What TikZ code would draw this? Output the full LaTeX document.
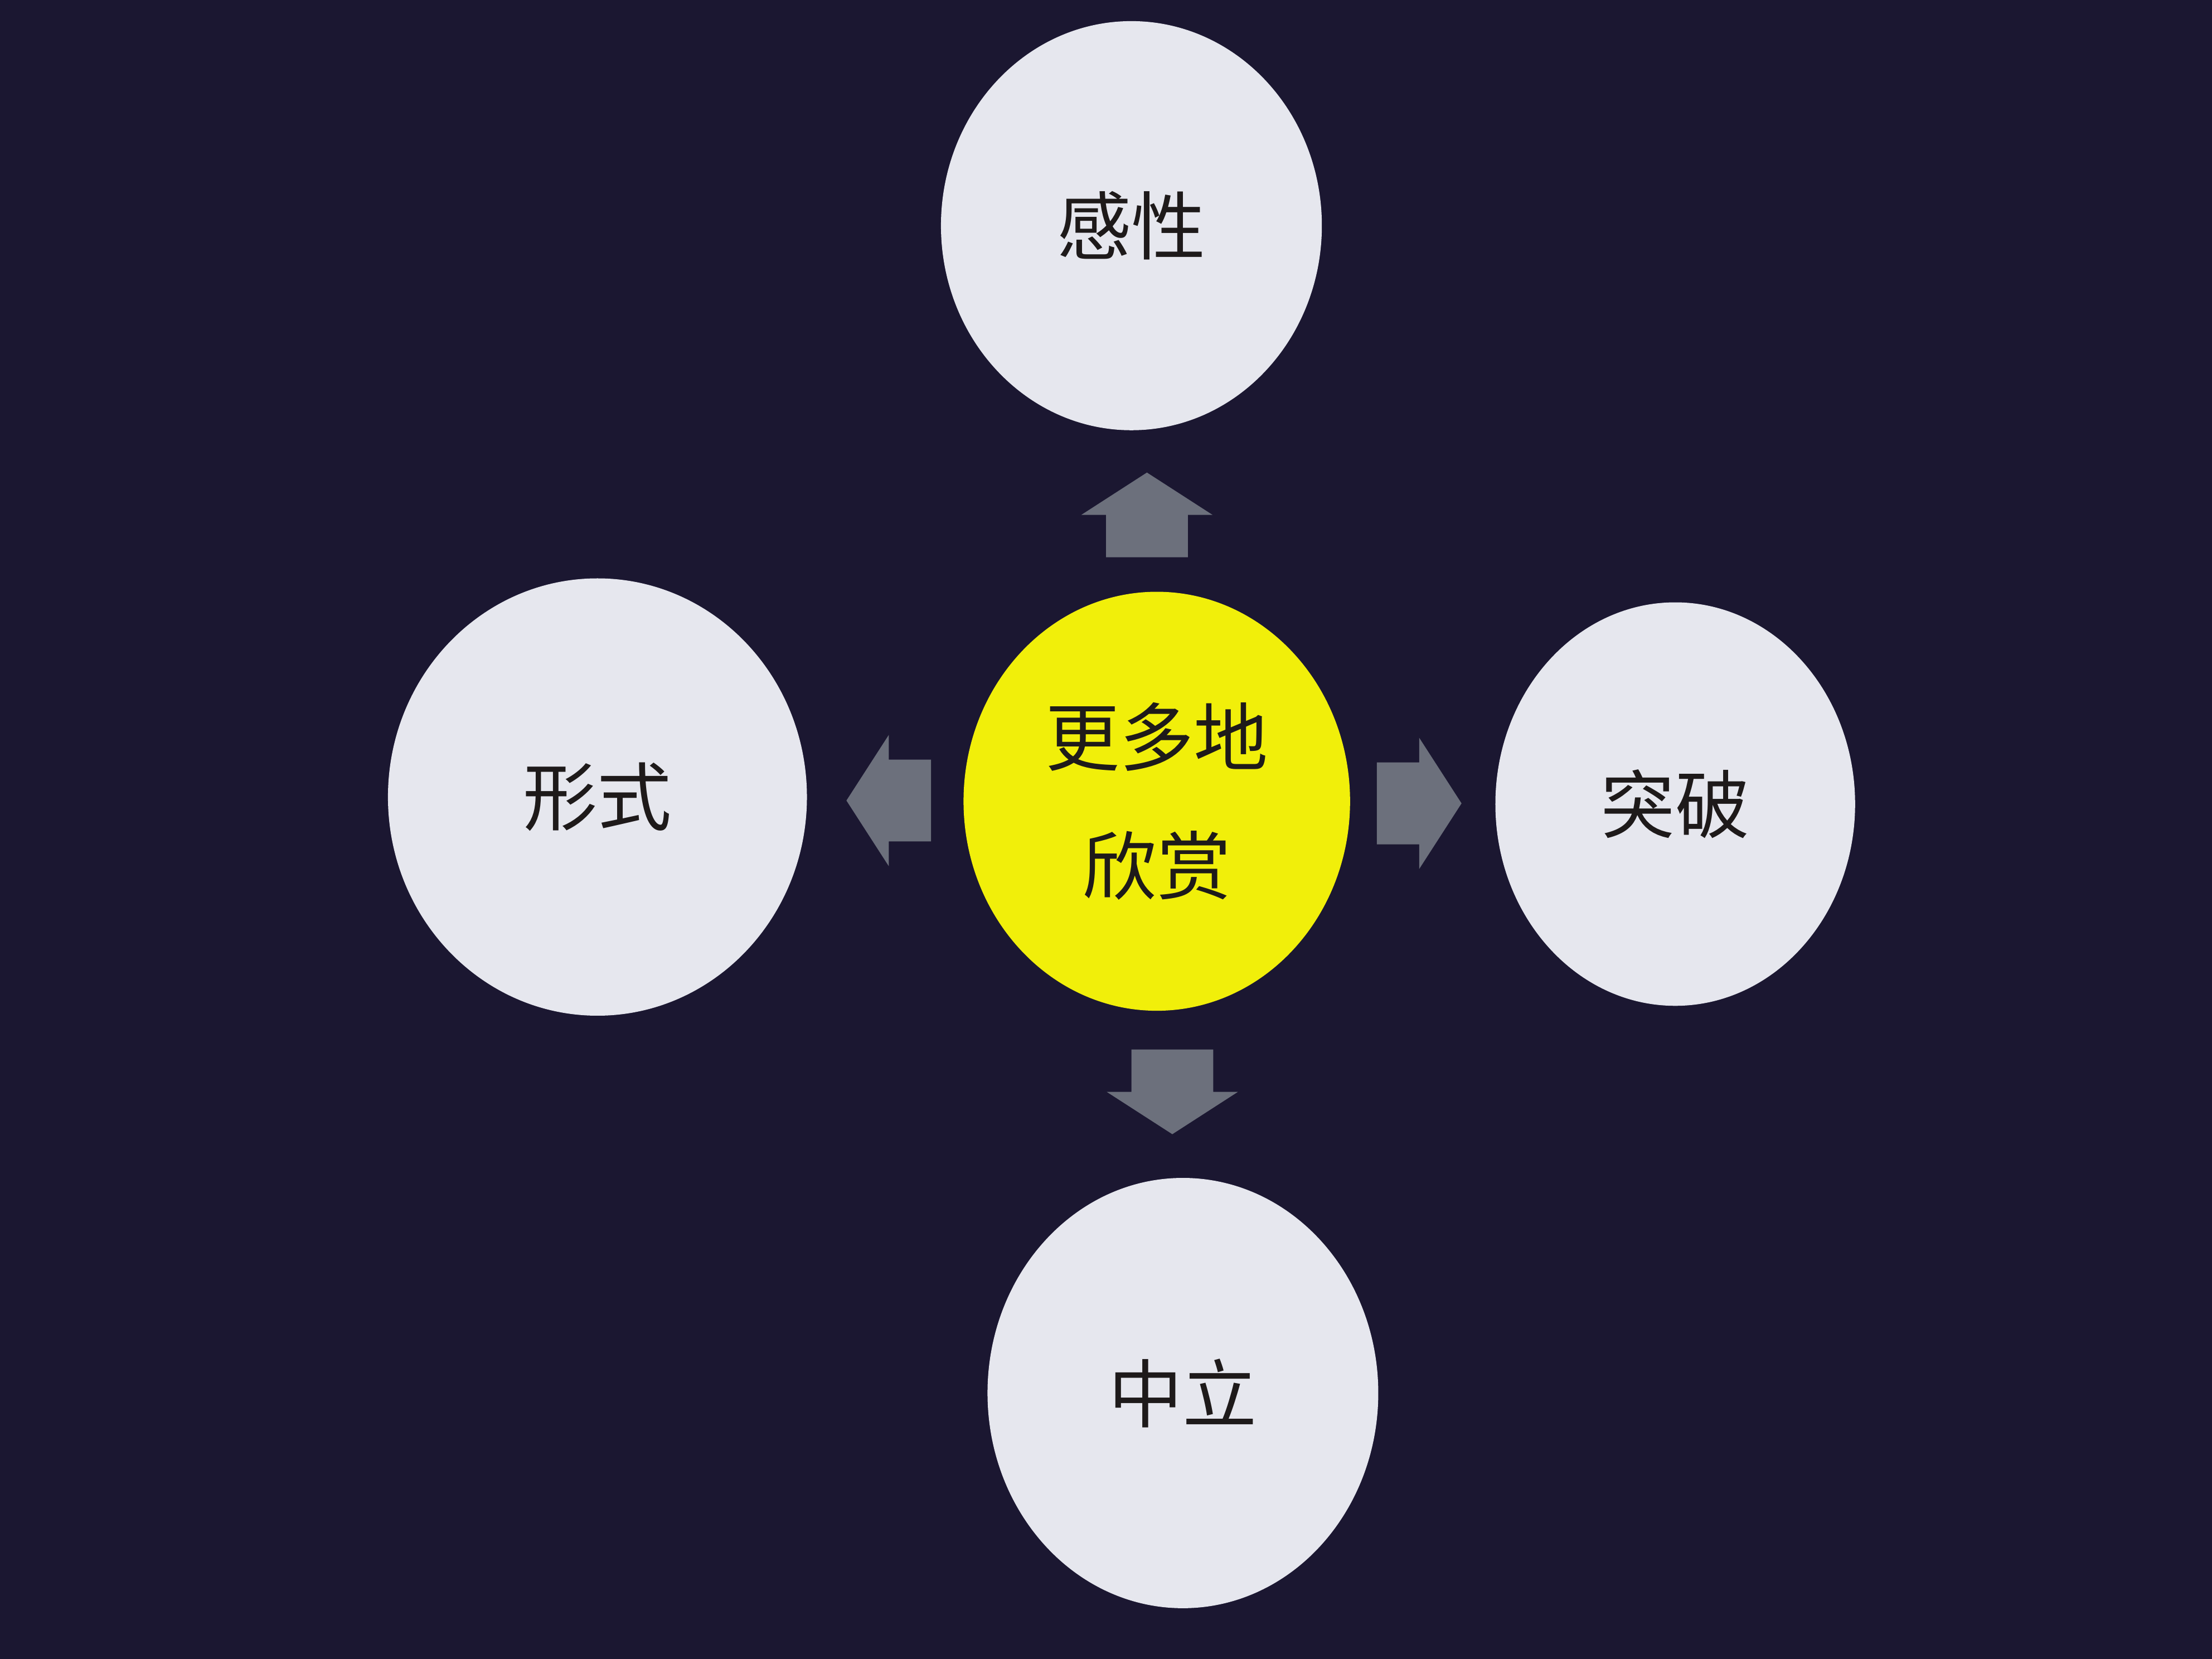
\documentclass[tikz,border=0pt]{standalone}
\usepackage{fontspec}
\usepackage{tikz}
\usetikzlibrary{shapes.geometric,positioning}
\setmainfont{Noto Sans CJK SC}
\definecolor{slidebg}{HTML}{1B1731}
\definecolor{discgray}{HTML}{E6E7EE}
\definecolor{discyellow}{HTML}{F1EF0A}
\definecolor{arrowgray}{HTML}{6C707C}
\definecolor{inkdark}{HTML}{1E1A1A}

% block arrow: #1 = centre, #2 = direction angle
\newcommand{\blockarrow}[2]{%
  \fill[arrowgray,shift={#1},rotate=#2]
    (-0.3,-0.29) -- (0,-0.29) -- (0,-0.465) -- (0.3,0) -- (0,0.465) -- (0,0.29) -- (-0.3,0.29) -- cycle;}

\begin{document}
\begin{tikzpicture}[
  disc/.style={ellipse,fill=discgray,text=inkdark,inner sep=0pt,font=\fontsize{15}{26}\selectfont},
  hub/.style={disc,fill=discyellow,align=center}]
  % background
  \fill[slidebg] (0,0) rectangle (15.68,11.76);
  \useasboundingbox (0,0) rectangle (15.68,11.76);
  % discs
  \node[hub,minimum width=2.74cm,minimum height=2.97cm] (centre) at (8.20,6.08) {更多地\\欣赏};
  \node[disc,minimum width=2.70cm,minimum height=2.90cm] (top) at (8.02,10.16) {感性};
  \node[disc,minimum width=2.97cm,minimum height=3.10cm] (left) at (4.235,6.11) {形式};
  \node[disc,minimum width=2.55cm,minimum height=2.86cm] (right) at (11.875,6.06) {突破};
  \node[disc,minimum width=2.77cm,minimum height=3.05cm] (bottom) at (8.385,1.885) {中立};
  % arrows
  \coordinate (upA) at (8.13,8.11);
  \coordinate (leftA) at (6.30,6.085);
  \coordinate (rightA) at (10.06,6.065);
  \coordinate (downA) at (8.31,4.02);
  \blockarrow{(upA)}{90}
  \blockarrow{(leftA)}{180}
  \blockarrow{(rightA)}{0}
  \blockarrow{(downA)}{-90}
\end{tikzpicture}
\end{document}
